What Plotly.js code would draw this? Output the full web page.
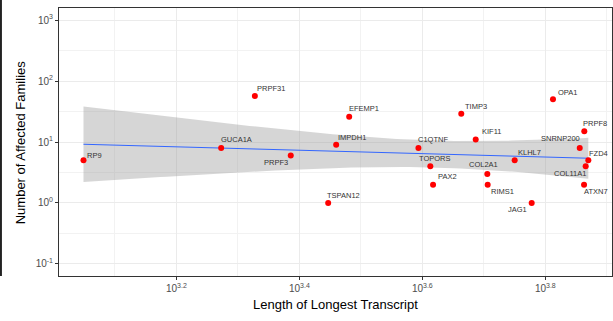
<!DOCTYPE html>
<html>
<head>
<meta charset="utf-8">
<script src="https://cdn.plot.ly/plotly-3.0.1.min.js"></script>
<style>html,body{margin:0;padding:0;background:#fff;}#chart{width:613px;height:321px;}</style>
</head>
<body>
<div id="chart"></div>
<script>
// ---- data ----
const genes = ["RP9","GUCA1A","PRPF31","PRPF3","IMPDH1","EFEMP1","TSPAN12","C1QTNF","TOPORS","PAX2","TIMP3","KIF11","COL2A1","RIMS1","KLHL7","JAG1","OPA1","PRPF8","SNRNP200","FZD4","COL11A1","ATXN7"];
const transcriptLength = [1119,1874,2126,2432,2883,3027,2798,3923,4102,4144,4606,4862,5078,5085,5626,5996,6494,7302,7178,7413,7340,7295];
const affectedFamilies = [5,8,57,6,9,26,1,8,4,2,29,11,3,2,5,1,50,15,8,5,4,2];
const xTickExp = [3.2,3.4,3.6,3.8];
const yTickExp = [-1,0,1,2,3];

// ---- label placement (pixel shifts from each point) ----
const labelShift = {
  RP9:[11,5],GUCA1A:[15,8],PRPF31:[16,7],PRPF3:[-15,-7],IMPDH1:[16,7],EFEMP1:[15,8],
  TSPAN12:[15,7],C1QTNF:[15,8],TOPORS:[5,8],PAX2:[14,8],TIMP3:[15,7],KIF11:[16,8],
  COL2A1:[-4,9],RIMS1:[15,-7],KLHL7:[15,8],JAG1:[-14,-7],OPA1:[15,7],PRPF8:[11,8],
  SNRNP200:[-19,9],FZD4:[10,7],COL11A1:[-16,-7],ATXN7:[12,-7]
};

const lx = transcriptLength.map(v => Math.log10(v));
const ly = affectedFamilies.map(v => Math.log10(v));

// linear fit in log-log space with 95% confidence band
const n = lx.length;
const mx = lx.reduce((a,b)=>a+b,0)/n, my = ly.reduce((a,b)=>a+b,0)/n;
let sxx=0, sxy=0;
for (let i=0;i<n;i++){ sxx += (lx[i]-mx)**2; sxy += (lx[i]-mx)*(ly[i]-my); }
const slope = sxy/sxx, icpt = my - slope*mx;
let sse=0; for (let i=0;i<n;i++){ sse += (ly[i]-(icpt+slope*lx[i]))**2; }
const s = Math.sqrt(sse/(n-2));
const tq = 2.086;
const xmin = Math.min(...lx), xmax = Math.max(...lx);
const gx=[], gy=[], up=[], lo=[];
for (let k=0;k<80;k++){
  const x = xmin + (xmax-xmin)*k/79;
  const f = icpt + slope*x;
  const se = s*Math.sqrt(1/n + (x-mx)**2/sxx);
  gx.push(x); gy.push(f); up.push(f+tq*se); lo.push(f-tq*se);
}

const font = "Liberation Sans, Arial, sans-serif";
const traces = [
  {x: gx.concat(gx.slice().reverse()), y: up.concat(lo.slice().reverse()), type:'scatter', mode:'lines',
   fill:'toself', fillcolor:'rgba(153,153,153,0.4)', line:{width:0}, hoverinfo:'skip'},
  {x: gx, y: gy, type:'scatter', mode:'lines', line:{color:'#3366FF', width:1}},
  {x: lx, y: ly, type:'scatter', mode:'markers', marker:{color:'#FF0000', size:6}}
];

const annotations = genes.map((g,i)=>({
  x: lx[i], y: ly[i], xref:'x', yref:'y', text: g, showarrow:false,
  xshift: labelShift[g][0], yshift: labelShift[g][1],
  font:{family:font, size:7.5, color:'#333333'}
}));
annotations.push({text:'Length of Longest Transcript', xref:'paper', yref:'paper', x:0.5, y:-0.108,
  yanchor:'middle', showarrow:false, font:{family:font, size:13, color:'#000'}});
annotations.push({text:'Number of Affected Families', xref:'paper', yref:'paper', x:-0.07, y:0.5,
  xanchor:'center', textangle:-90, showarrow:false, font:{family:font, size:13, color:'#000'}});

const layout = {
  width:613, height:321,
  margin:{l:59, r:1, t:8, b:45},
  paper_bgcolor:'#fff', plot_bgcolor:'#fff',
  showlegend:false,
  font:{family:font},
  xaxis:{range:[3.009,3.9085], tickmode:'array', tickvals:xTickExp,
    ticktext: xTickExp.map(e=>'10<sup>'+e.toFixed(1)+'</sup>'),
    tickfont:{size:10, color:'#4d4d4d'}, ticks:'outside', ticklen:3, tickcolor:'#333',
    showgrid:true, gridcolor:'#ebebeb', gridwidth:1, zeroline:false,
    showline:true, linecolor:'#333', linewidth:1, mirror:true,
    minor:{tickmode:'array', tickvals:[3.1,3.3,3.5,3.7,3.9], showgrid:true, gridcolor:'#f2f2f2', gridwidth:1, ticklen:0}},
  yaxis:{range:[-1.197,3.197], tickmode:'array', tickvals:yTickExp,
    ticktext: yTickExp.map(e=>'10<sup>'+e+'</sup>'),
    tickfont:{size:10, color:'#4d4d4d'}, ticks:'outside', ticklen:3, tickcolor:'#333',
    showgrid:true, gridcolor:'#ebebeb', gridwidth:1, zeroline:false,
    showline:true, linecolor:'#333', linewidth:1, mirror:true,
    minor:{tickmode:'array', tickvals:[-0.5,0.5,1.5,2.5], showgrid:true, gridcolor:'#f2f2f2', gridwidth:1, ticklen:0}},
  annotations: annotations,
  shapes:[{type:'line', xref:'paper', yref:'paper', x0:-0.105, x1:-0.105, y0:0, y1:1.04,
    line:{color:'#222', width:2}}]
};

Plotly.newPlot('chart', traces, layout, {staticPlot:true, displayModeBar:false});
</script>
</body>
</html>
